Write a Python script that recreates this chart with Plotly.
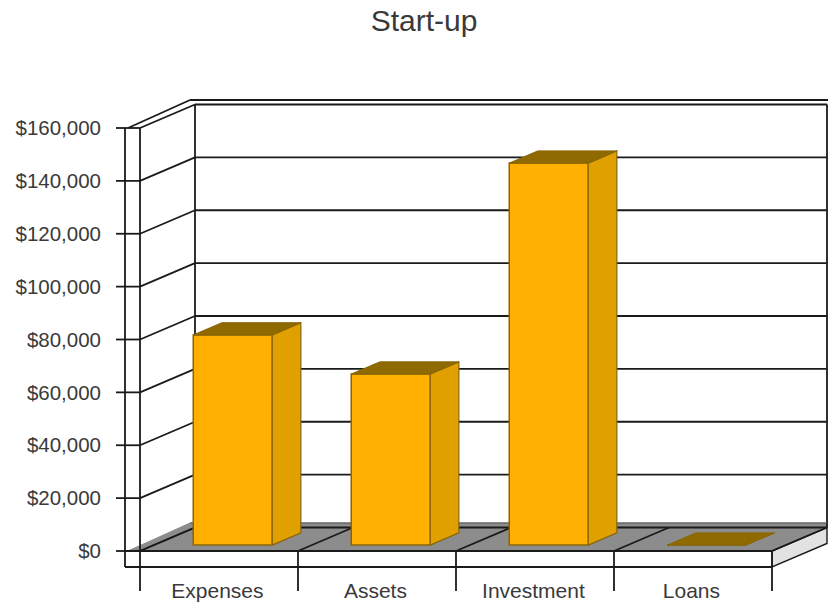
import plotly.graph_objects as go

# ---- data ----
categories = ["Expenses", "Assets", "Investment", "Loans"]
values = [79500, 64700, 144500, 0]
y_ticks = [0, 20000, 40000, 60000, 80000, 100000, 120000, 140000, 160000]
title_text = "Start-up"

# ---- look ----
W, H = 828, 605
L, R, T, B = 116, 0, 95, 0      # plot-area margins
CAT_PX = 158.0                  # pixels per category
X0_PX, Y0_PX = 140.0, 551.0     # where (0, $0) sits on the front plane
USD_PER_PX = 160000 / 423.0

DX = 55 / CAT_PX                # depth of the box in axis units
DY = 23.5 * USD_PER_PX
WALL = 15 / CAT_PX              # thickness of left wall
SLAB = 16 * USD_PER_PX          # thickness of base slab
LIP = 4.5 * USD_PER_PX          # top-of-wall offset
BAR_W = 0.5
BAR_Z0, BAR_ZD = 0.25, 0.52     # bar start depth and bar depth as fractions of the box depth

FRONT, SIDE, TOP, EDGE = "#FFB000", "#E0A000", "#8F6A00", "#8A6508"
FLOOR, SLAB_SIDE, INK, TEXT = "#8C8C8C", "#E2E2E2", "#1A1A1A", "#3A3A3A"
FONT = "Liberation Sans"
LW = 1.8

n = len(categories)
ymax = max(y_ticks)
xr = [(L - X0_PX) / CAT_PX, (W - R - X0_PX) / CAT_PX]
yr = [(Y0_PX - (H - B)) * USD_PER_PX, (Y0_PX - T) * USD_PER_PX]
BACK_R = n + DX

shapes = []


def seg(x0, y0, x1, y1, color=INK, width=LW):
    shapes.append(dict(type="line", xref="x", yref="y", layer="below", x0=x0, y0=y0, x1=x1, y1=y1,
                       line=dict(color=color, width=width)))


def poly(pts, fill, line=None, width=1):
    path = "M " + " L ".join(f"{a},{b}" for a, b in pts) + " Z"
    shapes.append(dict(type="path", xref="x", yref="y", layer="below", path=path, fillcolor=fill,
                       line=dict(color=line or fill, width=width)))


# floor with the band behind the wall, slab below it
poly([(-WALL * 0.8, 0), (n, 0), (BACK_R, DY), (BACK_R, DY + LIP), (DX - 5 / CAT_PX, DY + LIP)], FLOOR)
poly([(n, 0), (BACK_R, DY), (BACK_R, DY - SLAB), (n, -SLAB)], SLAB_SIDE, INK, 1.4)
seg(-WALL, -SLAB, n, -SLAB)
seg(-WALL, -SLAB, -WALL, ymax)

# walls and grid lines
for t in y_ticks:
    seg(-24 / CAT_PX, t, 0, t)
    seg(0, t, DX, t + DY)
    seg(DX, t + DY, BACK_R, t + DY)
seg(0, 0, 0, ymax)
seg(DX, DY, DX, ymax + DY)
seg(BACK_R, DY, BACK_R, ymax + DY)
seg(-WALL * 0.8, ymax, DX - 5 / CAT_PX, ymax + DY + LIP)
seg(DX - 5 / CAT_PX, ymax + DY + LIP, BACK_R + 1 / CAT_PX, ymax + DY + LIP)
seg(DX - 5 / CAT_PX, DY + LIP, BACK_R, DY + LIP, "#555555", 1.2)

# category dividers: along the floor and down past the slab
TICK_DOWN = 40 * USD_PER_PX
for i in range(n + 1):
    seg(i, 0, i, -TICK_DOWN)
    seg(i, 0, i + DX, DY)
seg(-WALL, 0, n, 0)

fig = go.Figure()

x_front = [i + 0.5 + BAR_Z0 * DX for i in range(n)]
base = BAR_Z0 * DY
fig.add_trace(go.Bar(x=x_front, y=values, base=[base] * n, width=BAR_W,
                     marker=dict(color=FRONT, line=dict(color=EDGE, width=1.5)),
                     showlegend=False, hoverinfo="skip"))

ddx, ddy = BAR_ZD * DX, BAR_ZD * DY
for xc, v in zip(x_front, values):
    xl, xr_b, yt = xc - BAR_W / 2, xc + BAR_W / 2, base + v
    if v > 0:
        fig.add_trace(go.Scatter(x=[xr_b, xr_b + ddx, xr_b + ddx, xr_b, xr_b],
                                 y=[base, base + ddy, yt + ddy, yt, base],
                                 mode="lines", fill="toself", fillcolor=SIDE,
                                 line=dict(color=EDGE, width=1.2), showlegend=False, hoverinfo="skip"))
    fig.add_trace(go.Scatter(x=[xl, xl + ddx, xr_b + ddx, xr_b, xl],
                             y=[yt, yt + ddy, yt + ddy, yt, yt],
                             mode="lines", fill="toself", fillcolor=TOP,
                             line=dict(color=EDGE, width=1), showlegend=False, hoverinfo="skip"))

fig.update_layout(
    width=W, height=H, margin=dict(l=L, r=R, t=T, b=B, pad=0, autoexpand=False),
    paper_bgcolor="white", plot_bgcolor="white", shapes=shapes, showlegend=False,
    font=dict(family=FONT, color=TEXT),
    title=dict(text=title_text, x=424 / W, xanchor="center", xref="container", y=1 - 20 / H, yanchor="middle",
               font=dict(family=FONT, size=30, color=TEXT)),
    xaxis=dict(range=xr, showgrid=False, zeroline=False, showline=False, ticks="",
               tickmode="array", tickvals=[i + 0.49 for i in range(n)], ticktext=categories,
               ticklabelposition="inside", tickfont=dict(family=FONT, size=21, color=TEXT)),
    yaxis=dict(range=yr, showgrid=False, zeroline=False, showline=False, ticks="",
               tickmode="array", tickvals=y_ticks, ticktext=[f"${t:,}" for t in y_ticks],
               ticklabelstandoff=14, tickfont=dict(family=FONT, size=20.5, color=TEXT)),
)

fig.write_html("out.html", config=dict(displayModeBar=False),
               post_script="document.body.style.margin='0';")
